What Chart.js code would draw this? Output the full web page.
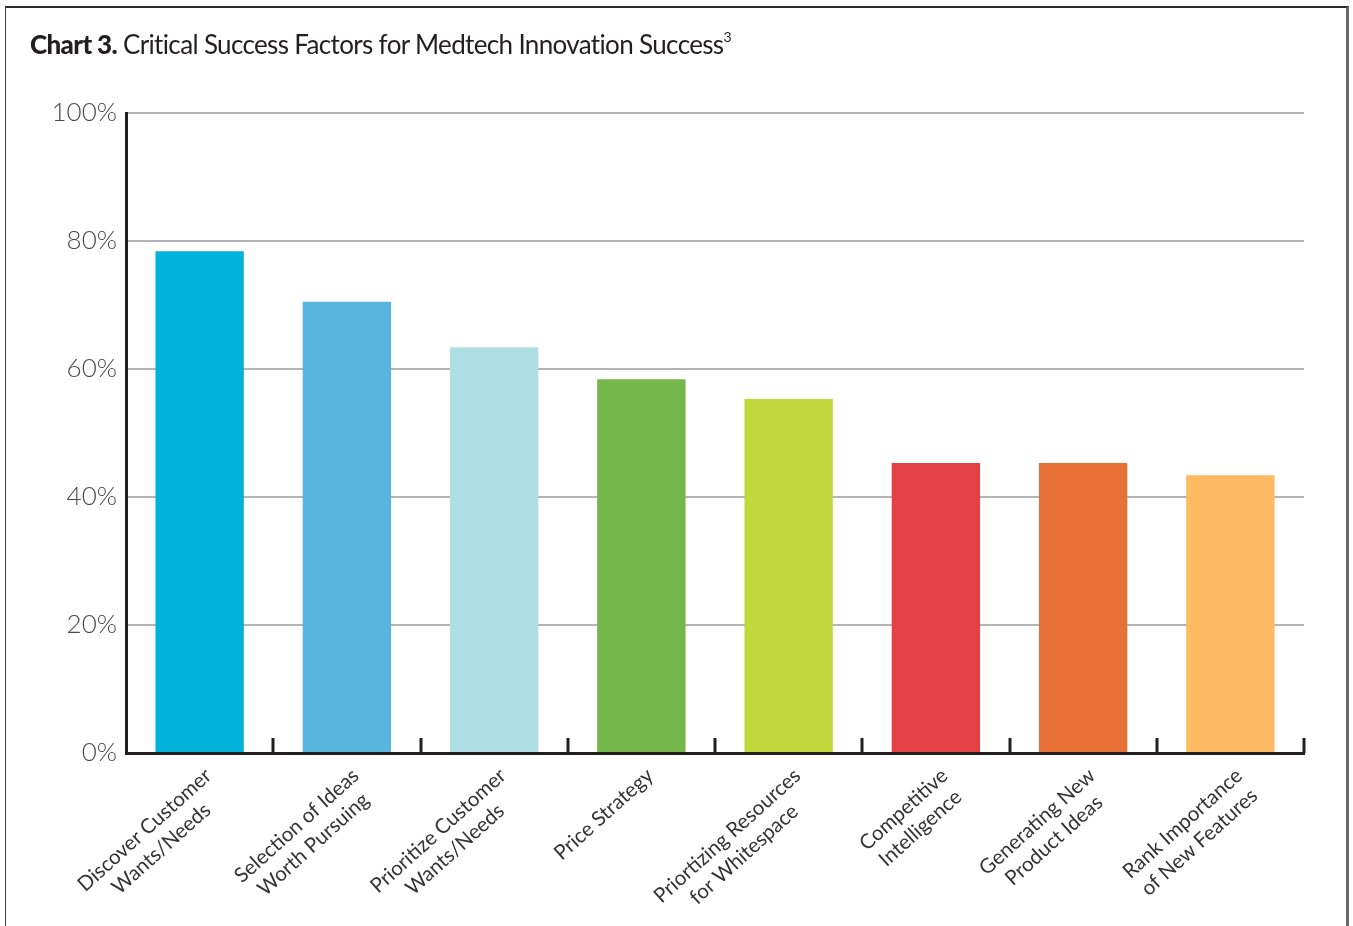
<!DOCTYPE html>
<html lang="en">
    <head>
        <meta charset="UTF-8">
        <title>Chart 3</title>
        <script src="https://cdn.jsdelivr.net/npm/chart.js@4.4.0/dist/chart.umd.min.js"></script>
        <style>
            body{
                margin: 0;
                background: #fff;
            }
            .page{
                position: relative;
                width: 1353px;
                height: 926px;
                overflow: hidden;
            }
            .frame{
                position: absolute;
                left: 5px;
                top: 6px;
                width: 1340px;
                height: 960px;
                border-top: 2px solid #2a2a2a;
                border-left: 1px solid #444;
                border-right: 3px solid #6a6a6a;
            }
            .title{
                position: absolute;
                left: 30px;
                top: 28px;
                font-family: Lato, "Open Sans", sans-serif;
                font-size: 26px;
                color: #231f20;
                white-space: nowrap;
                letter-spacing: -0.65px;
            }
            .title b{
                font-weight: 900;
            }
            .title sup{
                font-size: 14px;
                vertical-align: 12px;
                line-height: 0;
            }
            #chart3{
                position: absolute;
                left: 0;
                top: 0;
            }
        </style>
    </head>
    <body>
        <div class="page">
            <div class="frame"></div>
            <canvas id="chart3" width="1353" height="926"></canvas>
            <div class="title"><b>Chart 3.</b> Critical Success Factors for Medtech Innovation Success<sup>3</sup></div>
        </div>

    <script>
        // factors (two-line labels) and share of respondents, in %
        var factorLabels = [
            ['Discover Customer', 'Wants/Needs'],
            ['Selection of Ideas', 'Worth Pursuing'],
            ['Prioritize Customer', 'Wants/Needs'],
            ['Price Strategy'],
            ['Priortizing Resources', 'for Whitespace'],
            ['Competitive', 'Intelligence'],
            ['Generating New', 'Product Ideas'],
            ['Rank Importance', 'of New Features']
        ];
        var factorShares = [78.4, 70.5, 63.4, 58.4, 55.3, 45.3, 45.3, 43.4];
        var barColors = ['#00b2da', '#57b5de', '#b0dee5', '#75b74b', '#c0d83b', '#e44146', '#e67035', '#fdba63'];
        var yTickValues = [0, 20, 40, 60, 80, 100];

        var axisColor = '#231f20';

        // slanted, centred two-line category labels plus the small upward ticks between bars
        var categoryDecor = {
            id: 'categoryDecor',
            afterDraw: function(chart){
                const ctx = chart.ctx;
                const xs = chart.scales.x;
                const base = chart.chartArea.bottom;
                const step = xs.getPixelForValue(1) - xs.getPixelForValue(0);

                ctx.save();
                ctx.strokeStyle = axisColor;
                ctx.lineWidth = 3;
                factorLabels.forEach((lbl, i) => {
                    let x = Math.round(xs.getPixelForValue(i) + step / 2);
                    ctx.beginPath();
                    ctx.moveTo(x, base);
                    ctx.lineTo(x, base - 15);
                    ctx.stroke();
                });

                ctx.fillStyle = '#333';
                ctx.font = '400 20.5px Lato, "Open Sans", sans-serif';
                ctx.textBaseline = 'top';
                ctx.textAlign = 'center';
                factorLabels.forEach((lines, i) => {
                    let cx = xs.getPixelForValue(i);
                    let widest = Math.max(...lines.map(t => ctx.measureText(t).width));
                    ctx.save();
                    ctx.translate(cx + 2, base + 12);
                    ctx.rotate(-42 * Math.PI / 180);
                    lines.forEach((t, j) => {
                        ctx.fillText(t, -widest / 2, j * 25);
                    });
                    ctx.restore();
                });
                ctx.restore();
            }
        };

        document.addEventListener("DOMContentLoaded", function(){
            const ctx = document.getElementById('chart3').getContext('2d');
            new Chart(ctx, {
                type: 'bar',
                data: {
                    labels: factorLabels.map(l => l.join(' ')),
                    datasets: [{
                        data: factorShares,
                        backgroundColor: barColors,
                        borderWidth: 0,
                        barPercentage: 0.6,
                        categoryPercentage: 1.0
                    }]
                },
                options: {
                    responsive: false,
                    animation: false,
                    layout: {
                        padding: { left: 0, top: 113, right: 49, bottom: 173 }
                    },
                    plugins: {
                        legend: { display: false },
                        tooltip: { enabled: false }
                    },
                    scales: {
                        x: {
                            z: 1,
                            grid: { display: false },
                            ticks: { display: false },
                            border: { color: axisColor, width: 3 },
                            afterFit: function(scale){ scale.height = 0; }
                        },
                        y: {
                            min: 0,
                            max: 100,
                            afterBuildTicks: function(scale){
                                scale.ticks = yTickValues.map(v => ({ value: v }));
                            },
                            afterFit: function(scale){ scale.width = 126; },
                            grid: {
                                color: '#b4b4b6',
                                lineWidth: 2,
                                drawTicks: false
                            },
                            border: { color: axisColor, width: 3 },
                            ticks: {
                                padding: 9,
                                color: '#4a4a4a',
                                font: { family: 'Lato, "Open Sans", sans-serif', size: 26, weight: 300 },
                                callback: function(v){ return v + '%'; }
                            }
                        }
                    }
                },
                plugins: [categoryDecor]
            });
        });
    </script>
    </body>
</html>
